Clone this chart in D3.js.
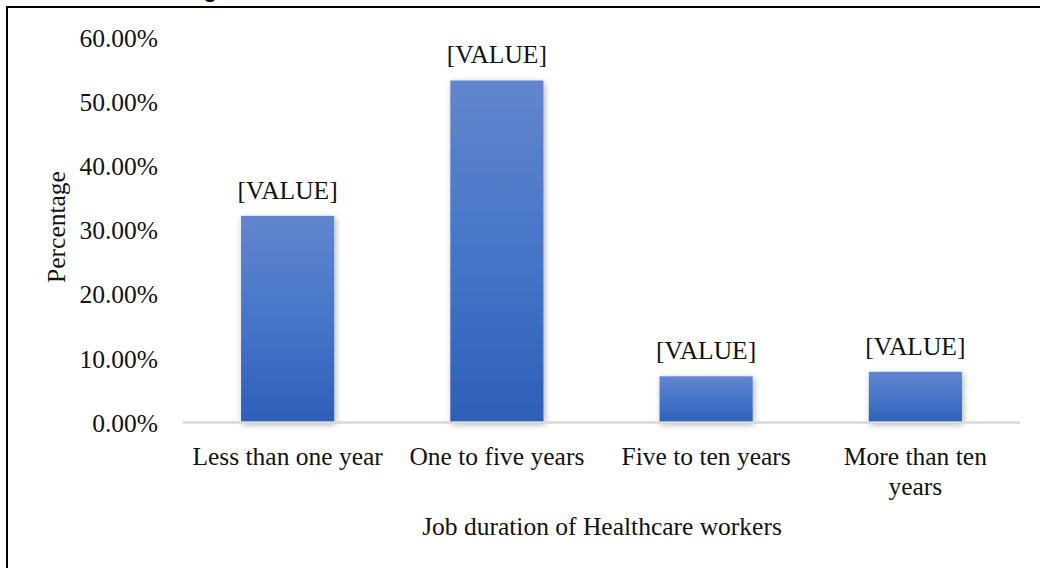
<!DOCTYPE html>
<html><head><meta charset="utf-8">
<script src="https://cdn.jsdelivr.net/npm/d3@7"></script>
<style>
html,body{margin:0;padding:0;background:#fff;overflow:hidden;}
svg{display:block;}
text{font-family:"Liberation Serif","Times New Roman",serif;fill:#111;}
</style></head>
<body>
<svg id="chart" width="1040" height="568"></svg>
<script>
const categories = ["Less than one year", "One to five years", "Five to ten years", "More than ten years"];
const values = [0.322, 0.533, 0.072, 0.079];
const dataLabels = ["[VALUE]", "[VALUE]", "[VALUE]", "[VALUE]"];
const yTicks = [0, 0.1, 0.2, 0.3, 0.4, 0.5, 0.6];
const titleText = "Figure 3: Job duration of Healthcare workers";
const xTitle = "Job duration of Healthcare workers";
const yTitle = "Percentage";

const svg = d3.select("#chart");
const W = 1040, H = 568;
const fs = 25.5;

// frame
svg.append("rect").attr("x", 7).attr("y", 7).attr("width", W + 20).attr("height", H + 20)
  .attr("fill", "none").attr("stroke", "#000").attr("stroke-width", 2);

// clipped title (only the bottom sliver is visible, as in the reference)
svg.append("text").attr("x", 173).attr("y", -3)
  .attr("textLength", 704).attr("lengthAdjust", "spacing")
  .style("font-family", "'Liberation Sans',Arial,sans-serif").style("font-weight", "bold")
  .style("font-size", "22px").attr("fill", "#222").text(titleText);

const defs = svg.append("defs");
const grad = defs.append("linearGradient").attr("id", "barGrad").attr("x1", 0).attr("y1", 0).attr("x2", 0).attr("y2", 1);
grad.append("stop").attr("offset", "0%").attr("stop-color", "#6285cd");
grad.append("stop").attr("offset", "50%").attr("stop-color", "#4676c8");
grad.append("stop").attr("offset", "100%").attr("stop-color", "#2e5fb8");
const filt = defs.append("filter").attr("id", "shadow").attr("x", "-20%").attr("y", "-20%").attr("width", "140%").attr("height", "140%");
filt.append("feDropShadow").attr("dx", 1.5).attr("dy", 2).attr("stdDeviation", 3)
  .attr("flood-color", "#000").attr("flood-opacity", 0.3);

const x = d3.scaleBand().domain(categories).range([183, 1020]).paddingInner(0.555).paddingOuter(0.2775);
const y = d3.scaleLinear().domain([0, 0.6]).range([422.5, 37.5]);

// y tick labels
const yAxis = d3.axisLeft(y).tickValues(yTicks).tickSize(0).tickPadding(0)
  .tickFormat(d => (d * 100).toFixed(2) + "%");
const gy = svg.append("g").attr("transform", "translate(158,0)").call(yAxis);
gy.select(".domain").remove();
gy.selectAll("text").style("font-family", "'Liberation Serif','Times New Roman',serif")
  .style("font-size", fs + "px").attr("fill", "#111").attr("dy", "0.34em");

// bars
svg.append("g").selectAll("rect").data(categories).join("rect")
  .attr("x", d => x(d)).attr("width", x.bandwidth())
  .attr("y", (d, i) => y(values[i])).attr("height", (d, i) => y(0) - y(values[i]))
  .attr("fill", "url(#barGrad)").attr("filter", "url(#shadow)");

// x axis line
const xAxis = d3.axisBottom(x).tickSize(0).tickFormat("");
const gx = svg.append("g").attr("transform", `translate(0,${y(0)})`).call(xAxis);
gx.select(".domain").attr("stroke", "#d9d9d9").attr("stroke-width", 2.5).attr("d", "M183,0H1020");

// category labels
const catLines = [["Less than one year"], ["One to five years"], ["Five to ten years"], ["More than ten", "years"]];
categories.forEach((c, i) => {
  const t = svg.append("text").attr("x", x(c) + x.bandwidth() / 2).attr("y", 465)
    .attr("text-anchor", "middle").style("font-size", fs + "px");
  catLines[i].forEach((ln, j) => {
    t.append("tspan").attr("x", x(c) + x.bandwidth() / 2).attr("dy", j === 0 ? 0 : 30).text(ln);
  });
});

// data labels
svg.append("g").selectAll("text").data(categories).join("text")
  .attr("x", d => x(d) + x.bandwidth() / 2)
  .attr("y", (d, i) => y(values[i]) - 17)
  .attr("text-anchor", "middle").style("font-size", fs + "px")
  .text((d, i) => dataLabels[i]);

// axis titles
svg.append("text").attr("x", 602).attr("y", 535).attr("text-anchor", "middle")
  .style("font-size", fs + "px").text(xTitle);
svg.append("text").attr("transform", "translate(65,227) rotate(-90)").attr("text-anchor", "middle")
  .style("font-size", fs + "px").text(yTitle);
</script>
</body></html>
